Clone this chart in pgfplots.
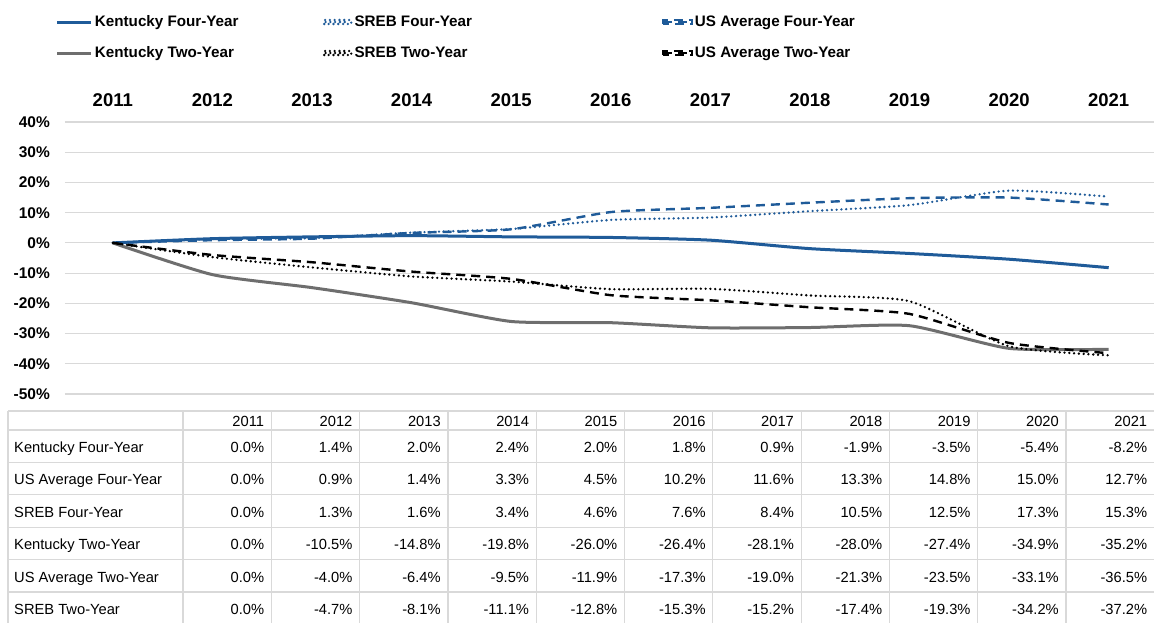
\documentclass[border=0pt]{standalone}
\usepackage{fontspec}
\setmainfont{Liberation Sans}
\usepackage{pgfplots}
\pgfplotsset{compat=1.18}
\usepackage{pgfplotstable}
\definecolor{kyblue}{HTML}{1F5B99}
\definecolor{kygray}{HTML}{6E6E6E}
\definecolor{gridgray}{HTML}{D9D9D9}

\pgfplotstableread{
x ky4 us4 sreb4 ky2 us2 sreb2
0 0.0 0.0 0.0 0.0 0.0 0.0
1 1.4 0.9 1.3 -10.5 -4.0 -4.7
2 2.0 1.4 1.6 -14.8 -6.4 -8.1
3 2.4 3.3 3.4 -19.8 -9.5 -11.1
4 2.0 4.5 4.6 -26.0 -11.9 -12.8
5 1.8 10.2 7.6 -26.4 -17.3 -15.3
6 0.9 11.6 8.4 -28.1 -19.0 -15.2
7 -1.9 13.3 10.5 -28.0 -21.3 -17.4
8 -3.5 14.8 12.5 -27.4 -23.5 -19.3
9 -5.4 15.0 17.3 -34.9 -33.1 -34.2
10 -8.2 12.7 15.3 -35.2 -36.5 -37.2
}\data

\tikzset{
 dotsty/.style={line width=2.6pt, line cap=round, dash pattern=on 0pt off 4.8pt},
 dashsty/.style={line width=2.4pt, dash pattern=on 9pt off 6pt},
}
\pgfplotsset{
 legKYblue/.style={legend image code/.code={\draw[kyblue,line width=3pt] (0pt,0pt) -- (34pt,0pt);}},
 legKYgray/.style={legend image code/.code={\draw[kygray,line width=3pt] (0pt,0pt) -- (34pt,0pt);}},
 legDotBlue/.style={legend image code/.code={\draw[kyblue,dotsty] (1.3pt,0pt) -- (25pt,0pt); \path (0pt,-2pt) rectangle (27pt,2pt);}},
 legDotBlack/.style={legend image code/.code={\draw[black,dotsty] (1.3pt,0pt) -- (25pt,0pt); \path (0pt,-2pt) rectangle (27pt,2pt);}},
 legDashBlue/.style={legend image code/.code={\draw[kyblue,dashsty] (0pt,0pt) -- (25pt,0pt); \path (0pt,-2pt) rectangle (29pt,2pt);}},
 legDashBlack/.style={legend image code/.code={\draw[black,dashsty] (0pt,0pt) -- (25pt,0pt); \path (0pt,-2pt) rectangle (29pt,2pt);}},
}

\begin{document}
\begin{tikzpicture}
\path[use as bounding box] (0,0) rectangle (1154pt,-622pt);
\begin{axis}[
 at={(65pt,-394pt)}, anchor=south west,
 scale only axis, width=1089.5pt, height=272pt,
 xmin=-0.48, xmax=10.46, ymin=-50, ymax=40,
 axis line style={draw=none}, major tick length=0pt,
 xtick={0,1,2,3,4,5,6,7,8,9,10},
 xticklabels={2011,2012,2013,2014,2015,2016,2017,2018,2019,2020,2021},
 xticklabel pos=upper,
 xticklabel style={font=\bfseries\fontsize{18.5}{20}\selectfont, inner sep=0pt, anchor=south, yshift=15pt},
 ytick={-50,-40,-30,-20,-10,0,10,20,30,40},
 yticklabels={-50\%,-40\%,-30\%,-20\%,-10\%,0\%,10\%,20\%,30\%,40\%},
 yticklabel style={font=\bfseries\fontsize{15.5}{18}\selectfont, inner sep=0pt, anchor=east, xshift=-15pt},
 ymajorgrids, grid style={gridgray, line width=1.2pt},
 legend columns=3,
 legend style={at={(-0.0083,1.3107)}, anchor=west, draw=none, fill=none,
   inner sep=0pt, outer sep=0pt, font=\bfseries\fontsize{15.2}{18}\selectfont,
   column sep=0pt, row sep=0pt,
   cells={anchor=west, inner sep=0pt, minimum height=31pt}},
]
\addplot[kyblue, line width=3pt, smooth, tension=0.35, legKYblue] table[x=x,y=ky4]{\data};
\addlegendentry{\makebox[226pt][l]{Kentucky Four-Year}}
\addplot[kyblue, dotsty, smooth, tension=0.35, legDotBlue] table[x=x,y=sreb4]{\data};
\addlegendentry{\makebox[305pt][l]{SREB Four-Year}}
\addplot[kyblue, dashsty, smooth, tension=0.35, legDashBlue] table[x=x,y=us4]{\data};
\addlegendentry{US Average Four-Year}
\addplot[kygray, line width=3pt, smooth, tension=0.35, legKYgray] table[x=x,y=ky2]{\data};
\addlegendentry{\makebox[226pt][l]{Kentucky Two-Year}}
\addplot[black, dotsty, smooth, tension=0.35, legDotBlack] table[x=x,y=sreb2]{\data};
\addlegendentry{\makebox[305pt][l]{SREB Two-Year}}
\addplot[black, dashsty, smooth, tension=0.35, legDashBlack] table[x=x,y=us2]{\data};
\addlegendentry{US Average Two-Year}
\end{axis}

\begin{scope}[font=\fontsize{14.7}{17}\selectfont]
 \foreach \yy in {411,430,462.4,494.8,527.2,559.6,592}
   \draw[gridgray, line width=1.2pt] (8pt,-\yy pt) -- (1154pt,-\yy pt);
 \draw[gridgray, line width=1.2pt] (8pt,-411pt) -- (8pt,-630pt);
 \foreach \k in {0,...,11}
   \draw[gridgray, line width=1.2pt] ({183pt+88.3pt*\k},-411pt) -- ({183pt+88.3pt*\k},-630pt);
 \foreach \yr [count=\i] in {2011,...,2021}
   \node[anchor=mid east, inner sep=0pt] at ({183pt+88.3pt*\i-7pt},-423.5pt) {\yr};
 \foreach \lab/\vals [count=\r] in {
   Kentucky Four-Year/{0.0,1.4,2.0,2.4,2.0,1.8,0.9,-1.9,-3.5,-5.4,-8.2},
   US Average Four-Year/{0.0,0.9,1.4,3.3,4.5,10.2,11.6,13.3,14.8,15.0,12.7},
   SREB Four-Year/{0.0,1.3,1.6,3.4,4.6,7.6,8.4,10.5,12.5,17.3,15.3},
   Kentucky Two-Year/{0.0,-10.5,-14.8,-19.8,-26.0,-26.4,-28.1,-28.0,-27.4,-34.9,-35.2},
   US Average Two-Year/{0.0,-4.0,-6.4,-9.5,-11.9,-17.3,-19.0,-21.3,-23.5,-33.1,-36.5},
   SREB Two-Year/{0.0,-4.7,-8.1,-11.1,-12.8,-15.3,-15.2,-17.4,-19.3,-34.2,-37.2}}{
   \pgfmathsetmacro\yc{430+32.4*(\r-0.5)+3.7}
   \node[anchor=mid west, inner sep=0pt] at (14pt,-\yc pt) {\lab};
   \foreach \v [count=\c] in \vals {
     \node[anchor=mid east, inner sep=0pt] at ({183pt+88.3pt*\c-7pt},-\yc pt) {\v\%};
   }
 }
\end{scope}
\end{tikzpicture}
\end{document}
